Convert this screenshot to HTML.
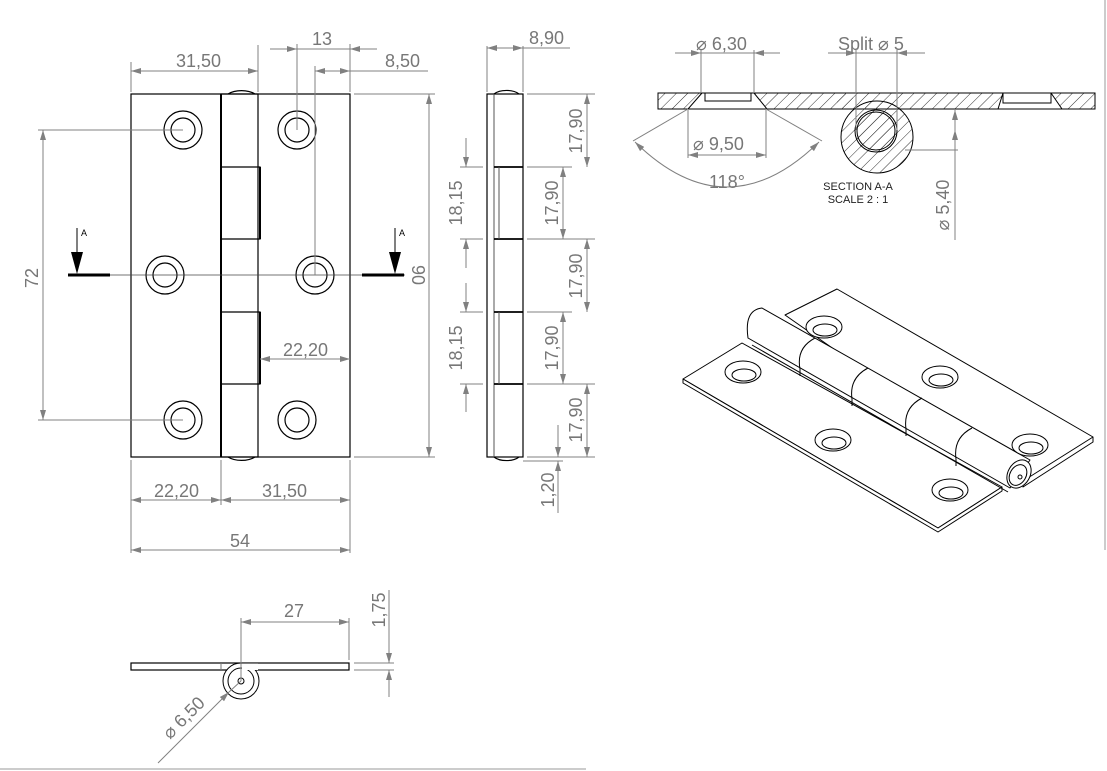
<!DOCTYPE html>
<html><head><meta charset="utf-8"><style>
html,body{margin:0;padding:0;background:#fff;width:1107px;height:771px;overflow:hidden}
svg{display:block}
text{font-family:"Liberation Sans",sans-serif;fill:#777;font-size:18px}
.d{stroke:#808080;stroke-width:1;fill:none}
.k{stroke:#000;stroke-width:1.2;fill:none}
</style></head><body>
<svg width="1107" height="771" viewBox="0 0 1107 771" xmlns="http://www.w3.org/2000/svg">
<defs>
<marker id="a" viewBox="0 0 10 6" refX="10" refY="3" markerWidth="14" markerHeight="6" orient="auto-start-reverse" markerUnits="userSpaceOnUse"><path d="M0,0L10,3L0,6z" fill="#808080"/></marker>
<pattern id="hp" width="8" height="8" patternUnits="userSpaceOnUse" patternTransform="rotate(45)"><line x1="0" y1="0" x2="0" y2="8" stroke="#333" stroke-width="1"/></pattern>
</defs>
<line x1="0" y1="769" x2="586" y2="769" stroke="#ccc" stroke-width="2"/>
<line x1="1105" y1="0" x2="1105" y2="550" stroke="#ccc" stroke-width="2"/>

<!-- FRONT VIEW -->
<rect x="131" y="94" width="219" height="363" class="k"/>
<rect x="221" y="94" width="37" height="363" class="k"/>
<line x1="221" y1="94" x2="221" y2="457" stroke="#000" stroke-width="2"/>
<path d="M221,167H260V239H221M221,312H260V384H221" class="k"/>
<line x1="260" y1="167" x2="260" y2="239" stroke="#000" stroke-width="2"/>
<line x1="260" y1="312" x2="260" y2="384" stroke="#000" stroke-width="2"/>
<path d="M228,94A18,10 0 0 1 255,94M228,457A18,10 0 0 0 255,457" class="k"/>
<g class="k">
<circle cx="183" cy="130" r="19"/><circle cx="183" cy="130" r="12"/>
<circle cx="165" cy="275" r="19"/><circle cx="165" cy="275" r="12"/>
<circle cx="183" cy="420" r="19"/><circle cx="183" cy="420" r="12"/>
<circle cx="297" cy="130" r="19"/><circle cx="297" cy="130" r="12"/>
<circle cx="315" cy="275" r="19"/><circle cx="315" cy="275" r="12"/>
<circle cx="297" cy="420" r="19"/><circle cx="297" cy="420" r="12"/>
</g>
<line x1="68" y1="275" x2="405" y2="275" stroke="#444" stroke-width="0.8"/>
<line x1="68" y1="275" x2="110" y2="275" stroke="#000" stroke-width="3"/>
<line x1="362" y1="275" x2="404" y2="275" stroke="#000" stroke-width="3"/>
<line x1="77" y1="228" x2="77" y2="252" stroke="#000"/><path d="M71,252L83,252L77,274z" fill="#000"/>
<line x1="395" y1="228" x2="395" y2="252" stroke="#000"/><path d="M389,252L401,252L395,274z" fill="#000"/>
<text x="81" y="236" style="font-size:9px;fill:#000">A</text>
<text x="399" y="236" style="font-size:9px;fill:#000">A</text>
<g class="d">
<line x1="131" y1="92" x2="131" y2="62"/><line x1="258" y1="92" x2="258" y2="45"/>
<line x1="131" y1="71" x2="258" y2="71" marker-start="url(#a)" marker-end="url(#a)"/>
<line x1="297" y1="130" x2="297" y2="44"/><line x1="350" y1="92" x2="350" y2="44"/>
<line x1="270" y1="49" x2="297" y2="49" marker-end="url(#a)"/><line x1="377" y1="49" x2="350" y2="49" marker-end="url(#a)"/><line x1="297" y1="49" x2="350" y2="49"/>
<line x1="315" y1="275" x2="315" y2="66"/>
<line x1="315" y1="71" x2="350" y2="71" marker-start="url(#a)" marker-end="url(#a)"/><line x1="350" y1="71" x2="428" y2="71"/>
<line x1="183" y1="130" x2="38" y2="130"/><line x1="183" y1="420" x2="38" y2="420"/>
<line x1="43" y1="130" x2="43" y2="420" marker-start="url(#a)" marker-end="url(#a)"/>
<line x1="354" y1="94" x2="435" y2="94"/><line x1="354" y1="457" x2="435" y2="457"/>
<line x1="429" y1="94" x2="429" y2="457" marker-start="url(#a)" marker-end="url(#a)"/>
<line x1="260" y1="359" x2="350" y2="359" marker-start="url(#a)" marker-end="url(#a)"/>
<line x1="131" y1="460" x2="131" y2="553"/><line x1="221" y1="460" x2="221" y2="505"/><line x1="350" y1="460" x2="350" y2="553"/>
<line x1="131" y1="500" x2="221" y2="500" marker-start="url(#a)" marker-end="url(#a)"/>
<line x1="221" y1="500" x2="350" y2="500" marker-start="url(#a)" marker-end="url(#a)"/>
<line x1="131" y1="550" x2="350" y2="550" marker-start="url(#a)" marker-end="url(#a)"/>
</g>
<text x="176" y="67">31,50</text><text x="312" y="45">13</text><text x="385" y="67">8,50</text>
<text x="283" y="356">22,20</text><text x="154" y="497">22,20</text><text x="262" y="497">31,50</text>
<text x="230" y="547">54</text>
<text transform="translate(38,278) rotate(-90)" text-anchor="middle">72</text>
<text transform="translate(412,275) rotate(90)" text-anchor="middle">90</text>

<!-- SIDE VIEW -->
<rect x="487" y="94" width="36" height="363" class="k" stroke="#555"/>
<line x1="494" y1="94" x2="494" y2="457" stroke="#555"/>
<g stroke="#000" stroke-width="1.8"><line x1="494" y1="167" x2="523" y2="167"/><line x1="494" y1="239" x2="523" y2="239"/><line x1="494" y1="312" x2="523" y2="312"/><line x1="494" y1="384" x2="523" y2="384"/></g>
<line x1="499" y1="167" x2="499" y2="239" stroke="#555"/><line x1="499" y1="312" x2="499" y2="384" stroke="#555"/>
<path d="M494,94A15,8 0 0 1 519,94M494,457A15,8 0 0 0 519,457" class="k"/>
<g class="d">
<line x1="487" y1="92" x2="487" y2="46"/><line x1="523" y1="92" x2="523" y2="46"/>
<line x1="487" y1="48" x2="523" y2="48" marker-start="url(#a)" marker-end="url(#a)"/><line x1="523" y1="48" x2="570" y2="48"/>
<line x1="527" y1="94" x2="595" y2="94"/><line x1="527" y1="167" x2="572" y2="167"/><line x1="527" y1="239" x2="595" y2="239"/><line x1="527" y1="312" x2="572" y2="312"/><line x1="527" y1="384" x2="595" y2="384"/><line x1="527" y1="457" x2="595" y2="457"/>
<line x1="587" y1="94" x2="587" y2="167" marker-start="url(#a)" marker-end="url(#a)"/>
<line x1="563" y1="167" x2="563" y2="239" marker-start="url(#a)" marker-end="url(#a)"/>
<line x1="587" y1="239" x2="587" y2="312" marker-start="url(#a)" marker-end="url(#a)"/>
<line x1="563" y1="312" x2="563" y2="384" marker-start="url(#a)" marker-end="url(#a)"/>
<line x1="587" y1="384" x2="587" y2="457" marker-start="url(#a)" marker-end="url(#a)"/>
<line x1="483" y1="167" x2="460" y2="167"/><line x1="483" y1="239" x2="460" y2="239"/><line x1="483" y1="312" x2="460" y2="312"/><line x1="483" y1="384" x2="460" y2="384"/>
<line x1="466" y1="138" x2="466" y2="167" marker-end="url(#a)"/><line x1="466" y1="268" x2="466" y2="239" marker-end="url(#a)"/>
<line x1="466" y1="283" x2="466" y2="312" marker-end="url(#a)"/><line x1="466" y1="412" x2="466" y2="384" marker-end="url(#a)"/>
<line x1="523" y1="461" x2="563" y2="461"/>
<line x1="558" y1="425" x2="558" y2="457" marker-end="url(#a)"/><line x1="558" y1="513" x2="558" y2="461" marker-end="url(#a)"/>
</g>
<text x="529" y="44">8,90</text>
<text transform="translate(582,131) rotate(-90)" text-anchor="middle">17,90</text>
<text transform="translate(558,203) rotate(-90)" text-anchor="middle">17,90</text>
<text transform="translate(582,276) rotate(-90)" text-anchor="middle">17,90</text>
<text transform="translate(558,348) rotate(-90)" text-anchor="middle">17,90</text>
<text transform="translate(582,420) rotate(-90)" text-anchor="middle">17,90</text>
<text transform="translate(462,203) rotate(-90)" text-anchor="middle">18,15</text>
<text transform="translate(462,348) rotate(-90)" text-anchor="middle">18,15</text>
<text transform="translate(554,490) rotate(-90)" text-anchor="middle">1,20</text>

<!-- SECTION A-A -->
<path d="M658,93H1095V109H658Z" fill="url(#hp)" stroke="#000"/>
<path d="M702,93L688,109H767L754,93Z" fill="#fff" stroke="#000"/>
<rect x="705" y="93" width="46" height="8" fill="#fff" stroke="#000"/>
<path d="M1003,93L998,109H1062L1051,93Z" fill="#fff" stroke="#000"/>
<rect x="1003" y="93" width="48" height="10" fill="#fff" stroke="#000"/>
<circle cx="877" cy="137" r="36" fill="url(#hp)" stroke="#000"/>
<rect x="837" y="93" width="16" height="15" fill="url(#hp)"/>
<circle cx="876" cy="131" r="21" fill="url(#hp)" stroke="#000" stroke-width="1"/>
<circle cx="876" cy="131" r="19" fill="none" stroke="#000" stroke-width="1"/>
<g class="d">
<line x1="701" y1="93" x2="701" y2="50"/><line x1="754" y1="93" x2="754" y2="50"/>
<line x1="675" y1="53" x2="701" y2="53" marker-end="url(#a)"/><line x1="780" y1="53" x2="754" y2="53" marker-end="url(#a)"/><line x1="701" y1="53" x2="754" y2="53"/>
<line x1="856" y1="50" x2="856" y2="130"/><line x1="897" y1="50" x2="897" y2="130"/>
<line x1="828" y1="53" x2="856" y2="53" marker-end="url(#a)"/><line x1="925" y1="53" x2="897" y2="53" marker-end="url(#a)"/><line x1="856" y1="53" x2="897" y2="53"/>
<line x1="688" y1="110" x2="688" y2="158"/><line x1="766" y1="110" x2="766" y2="158"/>
<line x1="688" y1="155" x2="766" y2="155" marker-start="url(#a)" marker-end="url(#a)"/>
<line x1="688" y1="109" x2="633" y2="141"/><line x1="766" y1="109" x2="822" y2="141"/>
<path d="M635,142Q727,232 819,142" marker-start="url(#a)" marker-end="url(#a)"/>
<line x1="955" y1="110" x2="955" y2="240" marker-start="url(#a)"/>
<line x1="905" y1="150" x2="958" y2="150"/>
<line x1="955" y1="150" x2="955" y2="130" marker-end="url(#a)"/>
</g>
<text x="696" y="50">⌀ 6,30</text>
<text x="838" y="50">Split ⌀ 5</text>
<text x="693" y="150">⌀ 9,50</text>
<text x="709" y="188">118°</text>
<text x="858" y="190" text-anchor="middle" style="font-size:11px;fill:#222">SECTION A-A</text>
<text x="858" y="203" text-anchor="middle" style="font-size:11px;fill:#222">SCALE 2 : 1</text>
<text transform="translate(949,205) rotate(-90)" text-anchor="middle">⌀ 5,40</text>

<!-- ISOMETRIC -->
<g stroke="#000" stroke-width="1" fill="#fff" stroke-linejoin="round">
<path d="M785,315L837,289L1093,437L1023,481Z"/>
<path d="M1023,481L1023,487L1093,442L1093,437" fill="none"/>
<path d="M683,379L742,343L1002,487L938,528Z"/>
<path d="M683,379L683,383L938,532L1002,491L1002,487L938,528Z"/>
<!-- strip under knuckle -->
<path d="M752,345L1008,492" fill="none"/>
<!-- knuckle cylinder -->
<path d="M762,308L1030,460L1010,488L748,338Q744,310 762,308Z"/>
<path d="M815,338Q796,348 800,369M868,368Q849,378 852,399M922,398Q903,408 906,429M972,428Q953,438 956,459" fill="none"/>
<path d="M800,369L800,376M852,399L852,406M906,429L906,436M956,459L956,466" fill="none"/>
<ellipse cx="1019" cy="474" rx="11" ry="15" transform="rotate(30 1019 474)"/>
<ellipse cx="1018" cy="475" rx="8" ry="11" transform="rotate(30 1018 475)"/>
<circle cx="1020" cy="477" r="2"/>
<ellipse cx="824" cy="327" rx="18" ry="11"/><ellipse cx="825" cy="330" rx="12" ry="6"/>
<ellipse cx="743" cy="372" rx="18" ry="11"/><ellipse cx="744" cy="375" rx="12" ry="6"/>
<ellipse cx="940" cy="377" rx="18" ry="11"/><ellipse cx="941" cy="380" rx="12" ry="6"/>
<ellipse cx="833" cy="440" rx="18" ry="11"/><ellipse cx="834" cy="443" rx="12" ry="6"/>
<ellipse cx="1030" cy="445" rx="18" ry="11"/><ellipse cx="1031" cy="448" rx="12" ry="6"/>
<ellipse cx="950" cy="490" rx="18" ry="11"/><ellipse cx="951" cy="493" rx="12" ry="6"/>
</g>

<!-- BOTTOM VIEW -->
<rect x="131" y="663" width="218" height="7" class="k"/>
<line x1="221" y1="663" x2="221" y2="670" stroke="#777"/>
<circle cx="241" cy="681" r="18" fill="#fff" stroke="#000"/>
<circle cx="241" cy="681" r="13" fill="none" stroke="#000"/>
<circle cx="241" cy="681" r="3" fill="none" stroke="#000"/>
<rect x="242" y="663" width="16" height="7" fill="#fff"/>
<line x1="242" y1="663" x2="349" y2="663" stroke="#000"/>
<g class="d">
<line x1="241" y1="681" x2="241" y2="618"/><line x1="349" y1="660" x2="349" y2="618"/>
<line x1="241" y1="622" x2="349" y2="622" marker-start="url(#a)" marker-end="url(#a)"/>
<line x1="354" y1="663" x2="394" y2="663"/><line x1="354" y1="670" x2="394" y2="670"/>
<line x1="389" y1="590" x2="389" y2="663" marker-end="url(#a)"/><line x1="389" y1="697" x2="389" y2="670" marker-end="url(#a)"/>
<line x1="158" y1="763" x2="229" y2="692" marker-end="url(#a)"/><line x1="229" y1="692" x2="241" y2="681"/>
</g>
<text x="284" y="617">27</text>
<text transform="translate(385,610) rotate(-90)" text-anchor="middle">1,75</text>
<text transform="translate(188,722) rotate(-45)" text-anchor="middle">⌀ 6,50</text>
</svg>
</body></html>
